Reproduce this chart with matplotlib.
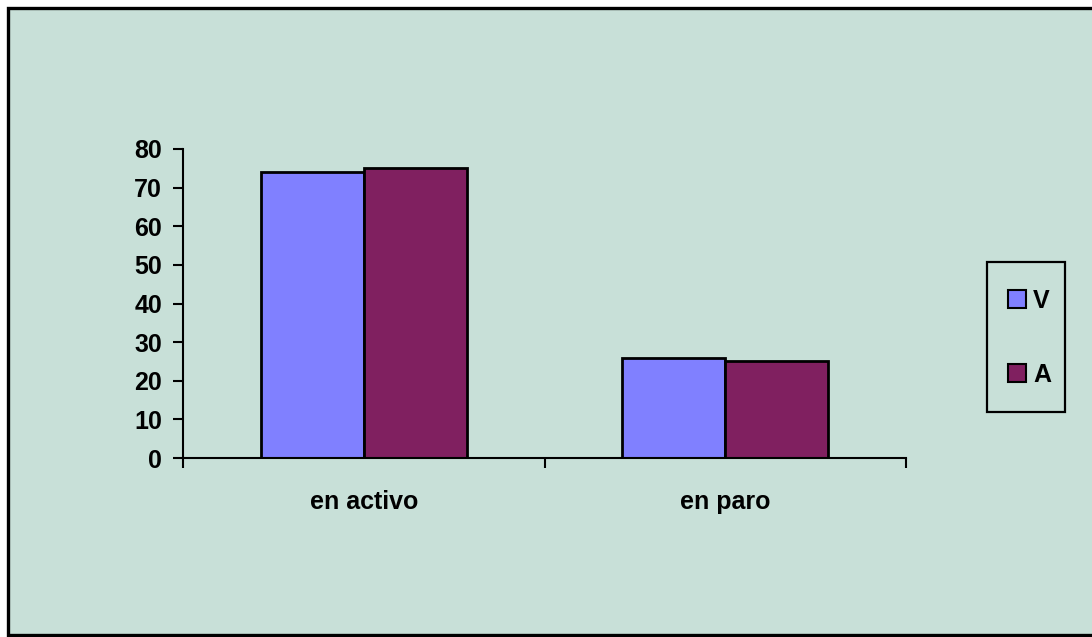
import matplotlib
matplotlib.use("Agg")
import matplotlib.pyplot as plt
from matplotlib.patches import Rectangle, Patch
import numpy as np

categories = ["en activo", "en paro"]
series_names = ["V", "A"]
values_v = [74, 26]
values_a = [75, 25]
y_ticks = [0, 10, 20, 30, 40, 50, 60, 70, 80]

bg = "#C8E0D8"
col_v = "#8080FF"
col_a = "#802060"
fs = 18

plt.rcParams["font.family"] = ["Liberation Sans", "DejaVu Sans"]
plt.rcParams["font.weight"] = "bold"

W, H = 1092, 637
fig = plt.figure(figsize=(W / 100, H / 100), dpi=100, facecolor="white")

# outer chart area with black frame
frame = Rectangle((8 / W, 2 / H), 1.2, (635 - 8) / H, transform=fig.transFigure,
                  facecolor=bg, edgecolor="black", linewidth=2.4, zorder=-10)
fig.patches.append(frame)

left, right = 183 / W, 906 / W
bottom, top = 1 - 458 / H, 1 - 149 / H
ax = fig.add_axes([left, bottom, right - left, top - bottom])
ax.set_facecolor("none")

x = np.arange(len(categories)) + 0.5
bw = 0.285
ax.bar(x - bw / 2, values_v, width=bw, color=col_v, edgecolor="black", linewidth=2, label=series_names[0], zorder=2)
ax.bar(x + bw / 2, values_a, width=bw, color=col_a, edgecolor="black", linewidth=2, label=series_names[1], zorder=2)

ax.set_xlim(0, len(categories))
ax.set_ylim(0, 80)
ax.set_yticks(y_ticks)
ax.set_yticklabels([str(t) for t in y_ticks], fontsize=fs, fontweight="bold")
ax.set_xticks(np.arange(len(categories) + 1))
ax.set_xticklabels([])
ax.set_xticks(x, minor=True)
ax.set_xticklabels(categories, minor=True, fontsize=fs, fontweight="bold")
ax.tick_params(axis="x", which="major", direction="out", length=7, width=1.5)
ax.tick_params(axis="x", which="minor", length=0, pad=23)
ax.tick_params(axis="y", direction="out", length=7, width=1.5, pad=8)

for s in ["top", "right"]:
    ax.spines[s].set_visible(False)
for s in ["left", "bottom"]:
    ax.spines[s].set_linewidth(1.5)

# legend box
lx0, lx1, ly0, ly1 = 987, 1065, 262, 412
fig.patches.append(Rectangle((lx0 / W, 1 - ly1 / H), (lx1 - lx0) / W, (ly1 - ly0) / H,
                             transform=fig.transFigure, facecolor="none", edgecolor="black",
                             linewidth=1.6, zorder=3))
handles = [Patch(facecolor=col_v, edgecolor="black", linewidth=1.5),
           Patch(facecolor=col_a, edgecolor="black", linewidth=1.5)]
fig.legend(handles, series_names, loc="center left",
           bbox_to_anchor=(1008 / W, 1 - 338 / H), frameon=False,
           prop={"weight": "bold", "size": fs},
           handlelength=0.72, handleheight=0.72, handletextpad=0.28,
           labelspacing=2.0, borderpad=0, borderaxespad=0)

fig.savefig("out.png", dpi=100, facecolor=fig.get_facecolor())
